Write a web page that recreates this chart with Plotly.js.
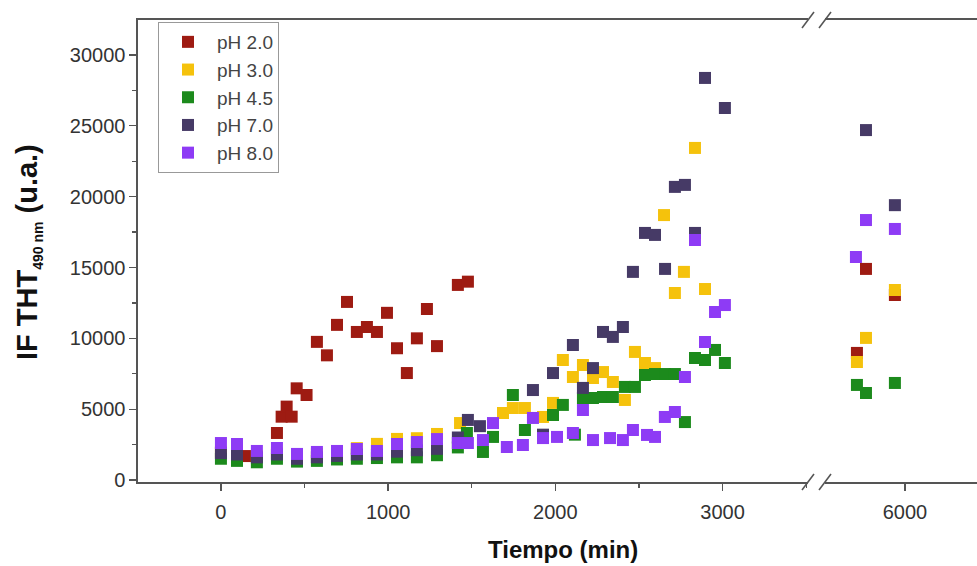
<!DOCTYPE html>
<html><head><meta charset="utf-8">
<script src="https://cdn.plot.ly/plotly-3.0.1.min.js"></script>
<style>html,body{margin:0;padding:0;overflow:hidden;background:#fff}</style>
</head><body><div id="chart" style="width:977px;height:566px"></div>
<script>
// ---- data (time in min, fluorescence in u.a.) ----
const seriesNames = ['pH 2.0', 'pH 3.0', 'pH 4.5', 'pH 7.0', 'pH 8.0'];
const seriesColors = ['#9E1B12', '#F5C20C', '#1C8A1C', '#463A66', '#8E3BF5'];

// first segment (0 - 3500 min)
const t_pH2 = [145, 335, 363, 393, 423, 453, 512, 574, 634, 694, 754, 813, 873, 933, 993, 1053, 1112, 1172, 1232, 1292, 1417, 1477];
const y_pH2 = [1690, 3320, 4470, 5180, 4470, 6470, 6000, 9750, 8800, 10950, 12570, 10450, 10800, 10450, 11800, 9300, 7550, 10000, 12070, 9450, 13770, 14000];

const t_pH3 = [0, 96, 215, 335, 455, 574, 694, 813, 933, 1053, 1172, 1292, 1430, 1687, 1746, 1818, 1926, 1986, 2045, 2105, 2165, 2225, 2285, 2344, 2416, 2476, 2536, 2596, 2650, 2715, 2769, 2835, 2895];
const y_pH3 = [2000, 1900, 1700, 1900, 1700, 1850, 2000, 2250, 2550, 2900, 2950, 3250, 4020, 4730, 5080, 5080, 4450, 5440, 8470, 7270, 8120, 7200, 7620, 6920, 5650, 9040, 8260, 7900, 18700, 13200, 14690, 23440, 13480];

const t_pH45 = [0, 96, 215, 335, 455, 574, 694, 813, 933, 1053, 1172, 1292, 1417, 1471, 1567, 1627, 1746, 1818, 1986, 2045, 2117, 2165, 2225, 2285, 2344, 2416, 2476, 2536, 2596, 2656, 2715, 2775, 2835, 2895, 2955, 3014];
const y_pH45 = [1500, 1350, 1250, 1500, 1300, 1350, 1450, 1500, 1550, 1600, 1600, 1750, 2300, 3320, 1980, 3040, 6000, 3530, 4590, 5300, 3200, 5790, 5790, 5860, 5860, 6570, 6570, 7410, 7480, 7480, 7480, 4090, 8610, 8470, 9180, 8260];

const t_pH7 = [0, 96, 215, 335, 455, 574, 694, 813, 933, 1053, 1172, 1292, 1417, 1477, 1549, 1866, 1926, 1986, 2105, 2165, 2225, 2285, 2344, 2404, 2464, 2536, 2596, 2656, 2715, 2775, 2835, 2895, 3014];
const y_pH7 = [1900, 1800, 1600, 1800, 1500, 1600, 1700, 1800, 1800, 2000, 2100, 2200, 3000, 4240, 3800, 6350, 3200, 7550, 9530, 6500, 7900, 10450, 10100, 10800, 14690, 17440, 17300, 14900, 20690, 20830, 17440, 28380, 26260];

const t_pH8 = [0, 96, 215, 335, 455, 574, 694, 813, 933, 1053, 1172, 1292, 1417, 1477, 1567, 1627, 1710, 1806, 1866, 1926, 2010, 2105, 2165, 2225, 2327, 2404, 2464, 2548, 2596, 2655, 2715, 2775, 2835, 2895, 2955, 3014];
const y_pH8 = [2610, 2540, 2050, 2260, 1840, 1980, 2050, 2190, 2050, 2540, 2680, 2890, 2610, 2610, 2820, 4020, 2330, 2470, 4380, 2960, 3040, 3320, 4940, 2820, 2960, 2820, 3530, 3180, 3040, 4450, 4800, 7270, 16940, 9740, 11860, 12350];

// second segment (after the axis break, ~5700 - 5950 min)
const tLate_pH2 = [5713, 5767, 5940];
const yLate_pH2 = [8970, 14900, 13060];
const tLate_pH3 = [5713, 5767, 5940];
const yLate_pH3 = [8330, 10030, 13410];
const tLate_pH45 = [5713, 5767, 5940];
const yLate_pH45 = [6710, 6140, 6850];
const tLate_pH7 = [5767, 5940];
const yLate_pH7 = [24700, 19400];
const tLate_pH8 = [5707, 5767, 5940];
const yLate_pH8 = [15740, 18350, 17720];

const xTicksLeft = [0, 1000, 2000, 3000];
const xMinorLeft = [-500, 500, 1500, 2500, 3500];
const xTicksRight = [6000];
const yTicks = [0, 5000, 10000, 15000, 20000, 25000, 30000];
const xTitle = 'Tiempo (min)';
const yTitle = "IF THT<sub><span style='font-size:14px'>490 nm</span></sub> (u.a.)";

// ---- build ----
const early = [[t_pH2, y_pH2], [t_pH3, y_pH3], [t_pH45, y_pH45], [t_pH7, y_pH7], [t_pH8, y_pH8]];
const late = [[tLate_pH2, yLate_pH2], [tLate_pH3, yLate_pH3], [tLate_pH45, yLate_pH45], [tLate_pH7, yLate_pH7], [tLate_pH8, yLate_pH8]];

const traces = [];
seriesNames.forEach((name, i) => {
  const mk = {symbol: 'square', size: 12, color: seriesColors[i], line: {width: 0}};
  traces.push({type: 'scatter', mode: 'markers', name: name, legendgroup: name,
    x: early[i][0], y: early[i][1], xaxis: 'x', yaxis: 'y', marker: mk});
  traces.push({type: 'scatter', mode: 'markers', name: name, legendgroup: name, showlegend: false,
    x: late[i][0], y: late[i][1], xaxis: 'x2', yaxis: 'y', marker: mk});
});

const FONT = 'Arial, Liberation Sans, sans-serif';
const axCol = '#555';
const tickFont = {family: FONT, size: 20, color: '#333'};
const W = 839, H = 462, L = 138, T = 20;
const px = v => (v - L) / W;
const py = v => (T + H - v) / H;
const d1 = px(808), d2 = px(825);

const xBase = {showgrid: false, zeroline: false, showline: true, linecolor: axCol, linewidth: 1.6,
  ticks: 'outside', ticklen: 7, tickwidth: 1.3, tickcolor: axCol, tickfont: tickFont,
  tickmode: 'array', mirror: true, anchor: 'y', ticklabelstandoff: 4};

const layout = {
  width: 977, height: 566,
  margin: {l: L, r: 0, t: T, b: 566 - T - H},
  paper_bgcolor: '#fff', plot_bgcolor: '#fff',
  showlegend: true,
  legend: {x: px(158), y: py(22), xanchor: 'left', yanchor: 'top',
    bordercolor: '#999', borderwidth: 1, bgcolor: '#fff',
    font: {family: FONT, size: 19, color: '#444'},
    tracegroupgap: 0, itemwidth: 48},
  xaxis: Object.assign({}, xBase, {domain: [0, d1], range: [-496, 3511], tickvals: xTicksLeft,
    minor: {tickvals: xMinorLeft, ticks: 'outside', ticklen: 4, tickcolor: axCol}}),
  xaxis2: Object.assign({}, xBase, {domain: [d2, 1], range: [5522, 6431], tickvals: xTicksRight}),
  xaxis3: {overlaying: 'x', side: 'top', anchor: 'y', range: [-496, 3511], showgrid: false, zeroline: false,
    showline: false, showticklabels: false, ticks: 'inside', ticklen: 7, tickcolor: axCol, tickwidth: 1.3,
    tickmode: 'array', tickvals: xTicksLeft,
    minor: {tickvals: xMinorLeft, ticks: 'inside', ticklen: 4, tickcolor: axCol}},
  xaxis4: {overlaying: 'x2', side: 'top', anchor: 'y', range: [5522, 6431], showgrid: false, zeroline: false,
    showline: false, showticklabels: false, ticks: 'inside', ticklen: 7, tickcolor: axCol, tickwidth: 1.3,
    tickmode: 'array', tickvals: xTicksRight},
  yaxis: {range: [-141, 32470], showgrid: false, zeroline: false, showline: true, linecolor: axCol, linewidth: 1.6,
    ticks: 'outside', ticklen: 7, tickwidth: 1.3, tickcolor: axCol, tickfont: tickFont,
    tickmode: 'array', tickvals: yTicks, tickformat: 'd', anchor: 'x',
    minor: {dtick: 2500, ticks: 'outside', ticklen: 4, tickcolor: axCol}},
  annotations: [
    {text: '<b>' + xTitle + '</b>', xref: 'paper', yref: 'paper', x: px(563), y: py(549),
      xanchor: 'center', yanchor: 'middle', showarrow: false,
      font: {family: FONT, size: 24, color: '#111'}},
    {text: '<b>' + yTitle + '</b>', xref: 'paper', yref: 'paper', x: px(28), y: py(252),
      xanchor: 'center', yanchor: 'middle', showarrow: false, textangle: -90,
      font: {family: FONT, size: 29, color: '#111'}}
  ],
  shapes: []
};

// axis-break marks (bottom and top)
[482, 20].forEach(yy => {
  [[802, 814], [819, 831]].forEach(([xa, xb]) => {
    layout.shapes.push({type: 'line', xref: 'paper', yref: 'paper',
      x0: px(xa), y0: py(yy + 8), x1: px(xb), y1: py(yy - 8),
      line: {color: axCol, width: 1.6}});
  });
});

Plotly.newPlot('chart', traces, layout, {displayModeBar: false, staticPlot: true});
</script>
</body></html>
